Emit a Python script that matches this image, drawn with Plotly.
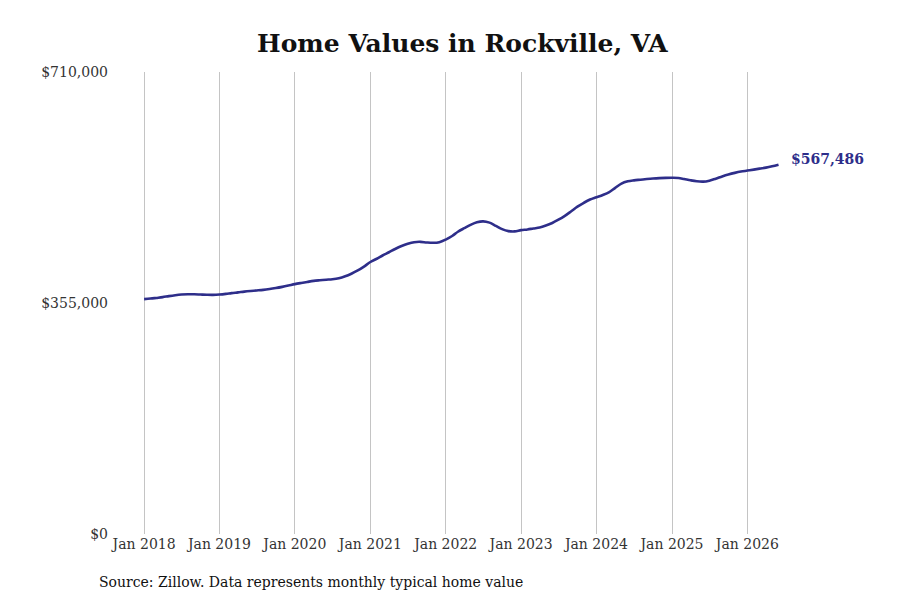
import pandas as pd
import plotly.graph_objects as go

# Monatliche typische Hauswerte (in Tausend $), Jan 2018 - Jun 2026
dates = pd.date_range("2018-01-01", "2026-06-01", freq="MS")

values_2018 = [361.0, 361.8, 362.8, 364.0, 365.6, 367.0, 368.0, 368.5, 368.4, 368.0, 367.6, 367.5]
values_2019 = [368.0, 369.0, 370.2, 371.3, 372.5, 373.5, 374.3, 375.2, 376.5, 378.0, 379.8, 381.8]
values_2020 = [384.0, 385.8, 387.4, 389.0, 390.0, 390.8, 391.5, 393.0, 396.0, 400.0, 405.0, 411.0]
values_2021 = [418.0, 423.0, 428.0, 433.0, 438.0, 442.5, 446.0, 448.5, 449.0, 448.0, 447.5, 448.5]
values_2022 = [452.5, 458.0, 464.5, 470.0, 475.0, 479.0, 480.5, 478.5, 473.5, 468.5, 465.5, 465.0]
values_2023 = [467.0, 468.0, 469.5, 471.0, 474.0, 478.0, 483.0, 489.0, 496.0, 503.0, 509.0, 514.0]
values_2024 = [517.5, 521.0, 525.0, 532.0, 538.5, 542.0, 543.5, 544.5, 545.5, 546.3, 546.9, 547.3]
values_2025 = [547.5, 547.2, 545.5, 543.5, 542.0, 541.5, 543.0, 546.0, 549.5, 552.5, 555.0, 557.0]
values_2026 = [558.5, 560.0, 561.5, 563.0, 565.0, 567.486]

values = [v * 1000 for v in (values_2018 + values_2019 + values_2020 + values_2021 + values_2022
                             + values_2023 + values_2024 + values_2025 + values_2026)]

tick_dates = pd.date_range("2018-01-01", "2026-01-01", freq="YS")
tick_labels = [d.strftime("Jan %Y") for d in tick_dates]
y_ticks = [0, 355000, 710000]
y_labels = ["$0", "$355,000", "$710,000"]

line_color = "#2e2e8a"
font_family = "DejaVu Serif"

fig = go.Figure()
fig.add_trace(go.Scatter(
    x=dates, y=values, mode="lines",
    line=dict(color=line_color, width=2.6, shape="spline"),
    hoverinfo="skip", showlegend=False,
))

# Letzter Wert als Beschriftung
fig.add_annotation(
    x=dates[-1], y=values[-1],
    text="<b>${:,.0f}</b>".format(values[-1]),
    showarrow=False, xanchor="left", xshift=10, yshift=6,
    font=dict(family=font_family, size=14, color=line_color),
)

fig.add_annotation(
    xref="paper", yref="paper", x=-0.0265, y=-0.104,
    xanchor="left", yanchor="middle", showarrow=False,
    text="Source: Zillow. Data represents monthly typical home value",
    font=dict(family=font_family, size=14, color="#111111"),
)

fig.update_layout(
    width=884, height=584,
    paper_bgcolor="white", plot_bgcolor="white",
    margin=dict(l=107, r=92, t=64, b=58),
    title=dict(
        text="<b>Home Values in Rockville, VA</b>",
        x=0.514, xanchor="center", y=0.94, yanchor="middle",
        font=dict(family=font_family, size=25, color="#111111"),
    ),
    font=dict(family=font_family, size=14, color="#333333"),
    xaxis=dict(
        range=["2017-08-13", "2026-09-13"],
        tickvals=tick_dates, ticktext=tick_labels,
        showgrid=True, gridcolor="#c4c4c4", gridwidth=1,
        showline=False, zeroline=False, ticks="",
        tickfont=dict(size=14, color="#333333"),
    ),
    yaxis=dict(
        range=[0, 710000],
        tickvals=y_ticks, ticktext=y_labels,
        showgrid=False, zeroline=False, showline=False, ticks="",
        ticklabelstandoff=6,
        tickfont=dict(size=14, color="#333333"),
    ),
)

fig.write_html("out.html")
